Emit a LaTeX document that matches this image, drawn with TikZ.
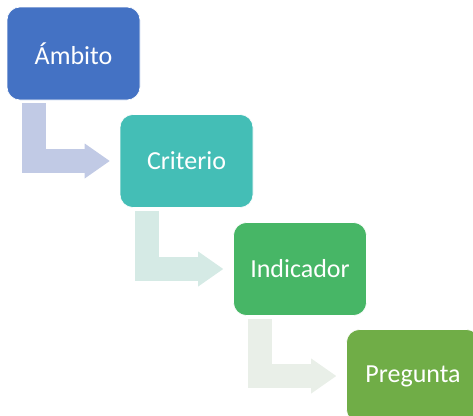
\documentclass[tikz,border=0pt]{standalone}
\usepackage{fontspec}
\setmainfont{Carlito}
\usetikzlibrary{arrows.meta, positioning}
\definecolor{ambblue}{RGB}{68, 114, 196}
\definecolor{critteal}{RGB}{68, 190, 182}
\definecolor{indgreen}{RGB}{71, 182, 102}
\definecolor{pregolive}{RGB}{112, 173, 71}
\definecolor{arrowblue}{RGB}{193, 202, 229}
\definecolor{arrowteal}{RGB}{213, 234, 229}
\definecolor{arrowgreen}{RGB}{233, 239, 232}

\begin{document}
\begin{tikzpicture}[x=1pt, y=1pt,
  stepbox/.style={rounded corners=13pt, minimum width=133pt, minimum height=93pt, inner sep=0pt,
    draw=white, line width=0.6pt, text=white, font=\fontsize{26}{30}\selectfont},
  bentarrow/.style={line width=24pt, line join=miter,
    -{Triangle[length=25pt, width=35pt, line width=0pt]}}]
  \useasboundingbox (0, 0) rectangle (473, -415);

  % Steps
  \node[stepbox, fill=ambblue] (amb) at (73.5, -53.5) {Ámbito};
  \node[stepbox, fill=critteal] (crit) at (186.5, -161) {Criterio};
  \node[stepbox, fill=indgreen] (ind) at (300, -269) {Indicador};
  \node[stepbox, fill=pregolive] (preg) at (413, -376) {Pregunta};

  % Bent arrows down to the next step
  \draw[bentarrow, arrowblue] ([xshift=27pt, yshift=-3pt]amb.south west) |- ([xshift=-10pt]crit.west);
  \draw[bentarrow, arrowteal] ([xshift=27pt, yshift=-3pt]crit.south west) |- ([xshift=-10pt]ind.west);
  \draw[bentarrow, arrowgreen] ([xshift=27pt, yshift=-3pt]ind.south west) |- ([xshift=-10pt]preg.west);
\end{tikzpicture}
\end{document}
